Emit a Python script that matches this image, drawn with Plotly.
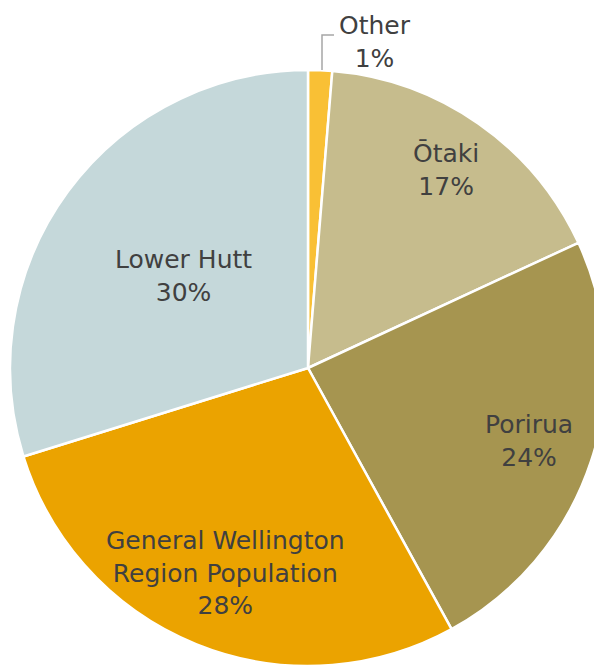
import math
import plotly.graph_objects as go

# slices clockwise from 12 o'clock
labels = ["Other", "Ōtaki", "Porirua", "General Wellington<br>Region Population", "Lower Hutt"]
values = [1.3, 16.8, 23.9, 28.2, 29.8]
pct_text = ["1%", "17%", "24%", "28%", "30%"]
colors = ["#F9C035", "#C6BC8D", "#A69550", "#EBA300", "#C5D8DA"]

# how far out (fraction of radius) each inside label sits
label_r = [None, 0.81, 0.78, 0.74, 0.52]

W, H = 602, 665
OFF = 8  # page body margin
cx, cy, R = 308 - OFF, 368 - OFF, 298

fig = go.Figure(
    go.Pie(
        labels=labels,
        values=values,
        textinfo="none",
        sort=False,
        direction="clockwise",
        rotation=0,
        marker=dict(colors=colors, line=dict(color="white", width=2.5)),
        domain=dict(x=[(cx - R) / W, (cx + R) / W], y=[1 - (cy + R) / H, 1 - (cy - R) / H]),
        hoverinfo="label+percent",
    )
)

font = dict(family="DejaVu Sans", size=25, color="#404040")

total = sum(values)
cum = 0
for lab, v, p, r in zip(labels, values, pct_text, label_r):
    mid = (cum + v / 2) / total * 2 * math.pi
    cum += v
    if r is None:
        continue
    x = cx + r * R * math.sin(mid)
    y = cy - r * R * math.cos(mid)
    fig.add_annotation(
        x=x / W, y=1 - y / H, xref="paper", yref="paper",
        xanchor="center", yanchor="middle",
        text=f"{lab}<br>{p}", showarrow=False, font=font,
    )

# outside label for the tiny slice, with a connector
fig.add_annotation(
    x=367 / W, y=1 - 34 / H, xref="paper", yref="paper",
    xanchor="center", yanchor="middle",
    text=f"{labels[0]}<br>{pct_text[0]}", showarrow=False, font=font,
)
fig.add_shape(
    type="path", xref="paper", yref="paper",
    path=f"M {314 / W} {1 - 62 / H} L {314 / W} {1 - 27 / H} L {326 / W} {1 - 27 / H}",
    line=dict(color="#A6A6A6", width=1.5),
)

fig.update_layout(
    width=W,
    height=H,
    margin=dict(l=0, r=0, t=0, b=0),
    showlegend=False,
    paper_bgcolor="white",
    plot_bgcolor="white",
)

fig.write_html("out.html")
